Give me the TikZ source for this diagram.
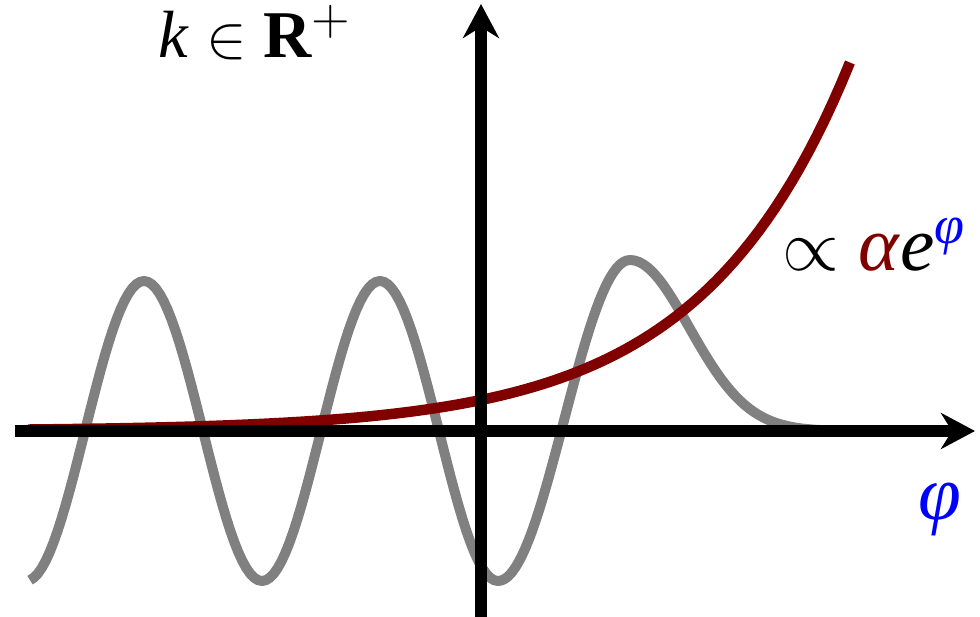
\documentclass[tikz,border=0pt]{standalone}
\usepackage{amsmath}
\usepackage{amssymb}
\usepackage{fontspec}
\setmainfont{Liberation Serif}[ItalicFont={Liberation Serif Italic}, BoldFont={Liberation Serif Bold}]
\usetikzlibrary{arrows.meta}
\definecolor{darkred}{RGB}{128,0,0}

\begin{document}
\begin{tikzpicture}[>={Stealth[length=3.4mm,width=3.6mm]}]
            \useasboundingbox (-4.81,-1.86) rectangle (4.99,4.31);
            \coordinate (W) at (-4.66,0);
            \coordinate (E) at (4.94,0);
            \coordinate (S) at (0,-1.95);
            \coordinate (N) at (0,4.27);
            
            % wave packet
            \draw[gray, line width=1mm, line join=round]
                plot[domain=-4.51:0.17, samples=120] (\x, {-1.5*cos(deg(2*pi*(\x+2.19)/2.36))})
                -- plot[domain=0.17:1.49, samples=40] (\x, {0.105-1.605*cos(180*(\x-0.17)/1.32)})
                -- plot[domain=1.49:4.3, samples=60] (\x, {1.71*exp(-(\x-1.49)^2/0.7)});
            
            % exponential
            \draw[darkred, line width=1.05mm] plot[domain=-4.53:3.69, samples=100] (\x, {0.31*exp(0.671*\x)});
            
            \draw[->, line width=1.2mm] (W) -- (E);
            \draw[->, line width=1.2mm] (S) -- (N);
            
            \node[anchor=base west, inner sep=0pt, font=\fontsize{19}{22}\selectfont] (klab) at (-3.23,3.74) {\textit{k} $\in$ \textbf{R}$^{+}$};
            \node[anchor=base west, inner sep=0pt, font=\fontsize{22}{26}\selectfont] (plab) at (3.01,1.61) {$\propto$ \textcolor{darkred}{\textit{α}}\textit{e}\textsuperscript{\textcolor{blue}{\textit{φ}}}};
            \node[inner sep=0pt, blue, font=\fontsize{22}{26}\selectfont] (philab) at (4.59,-0.78) {\textit{φ}};
        \end{tikzpicture}
\end{document}
